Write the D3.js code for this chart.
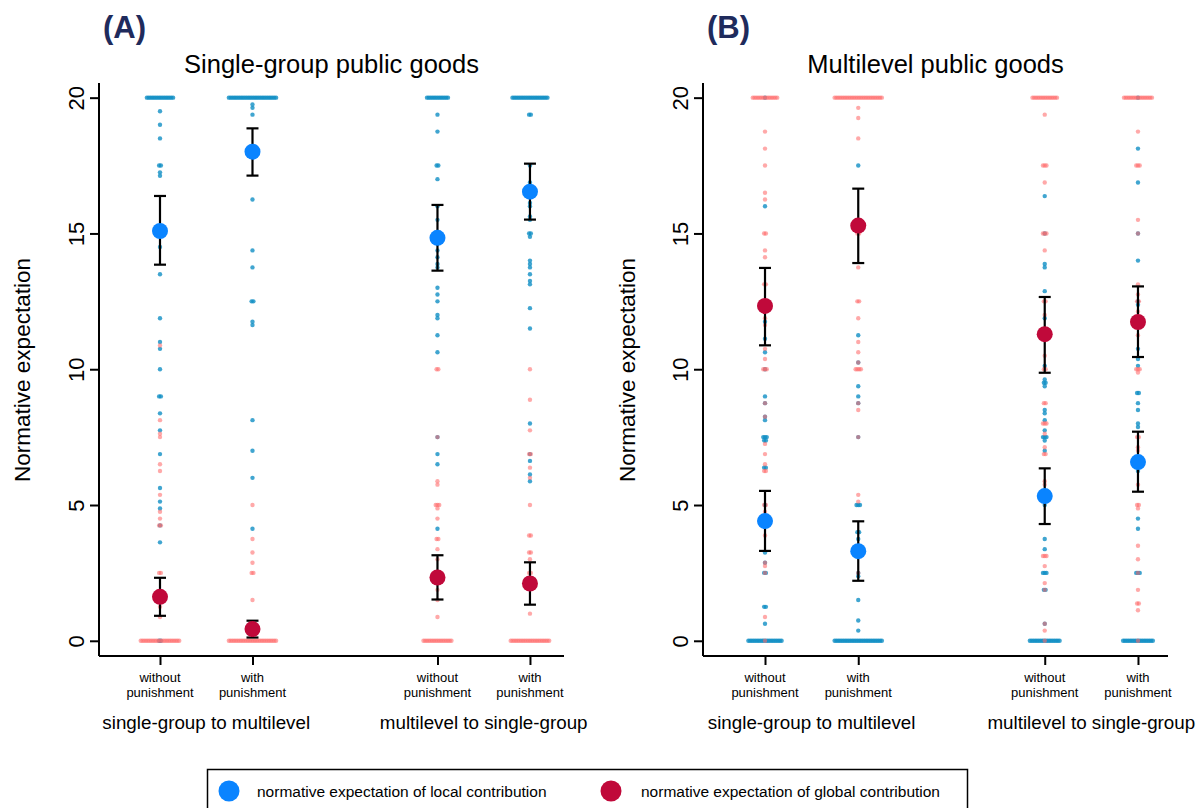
<!DOCTYPE html>
<html>
<head>
<meta charset="utf-8">
<script src="https://cdn.jsdelivr.net/npm/d3@7"></script>
<style>
  html, body { margin: 0; padding: 0; background: #fff; }
  svg { display: block; }
  text { font-family: "Liberation Sans", Arial, Helvetica, sans-serif; fill: #000; }
</style>
</head>
<body>
<svg id="chart" width="1204" height="808"></svg>
<script>
// ---- categories and labels ----
const categoryLabels = [["without", "punishment"], ["with", "punishment"], ["without", "punishment"], ["with", "punishment"]];
const categoryPos = [1, 2, 4, 5];
const groupLabels = ["single-group to multilevel", "multilevel to single-group"];
const yTickValues = [0, 5, 10, 15, 20];
const panelTitles = ["Single-group public goods", "Multilevel public goods"];
const panelTags = ["(A)", "(B)"];
const legendLabels = ["normative expectation of local contribution", "normative expectation of global contribution"];

// ---- individual responses: [value, number of respondents] ----
// Panel A: single-group public goods
const localA = [
  [[20,16],[19.5,1],[19,1],[18.5,1],[17.5,2],[17.25,1],[17.125,1],[14.5,1],[13.5,1],[11.875,1],[11,1],[10.75,1],[10,1],[9,2],[8.375,1],[7.75,1],[6.875,1],[5.625,1],[5.125,1],[4.875,1],[4.25,1],[3.625,1],[0,2]],
  [[20,28],[19.75,1],[19.625,1],[19.375,1],[16.25,1],[14.375,1],[13.75,1],[12.5,2],[11.75,1],[11.625,1],[8.125,1],[7,1],[6,1],[4.125,1]],
  [[20,13],[19.375,1],[18.75,1],[17.5,2],[17,1],[16,1],[15.5,1],[14.625,1],[14.375,1],[14.125,1],[13.875,1],[13.75,1],[13,1],[12.75,1],[12.5,1],[12,1],[11.875,1],[11.25,1],[10.625,1],[7.5,1],[6.875,1],[6.5,1],[4.125,1]],
  [[20,21],[19.375,2],[17.5,1],[16.875,1],[16.75,1],[16.125,1],[16,1],[15.625,1],[15.5,1],[15,2],[14.875,1],[14,1],[13.875,1],[13.75,1],[13.5,1],[13.25,1],[13.125,1],[12.25,1],[11.5,1],[8,1],[6.875,1],[6.625,1],[6.125,1],[5.875,1]]
];
const globalA = [
  [[10.875,1],[8.125,1],[7.625,1],[7.5,1],[6.5,1],[6.25,1],[5.375,1],[4.75,1],[4.5,1],[4.25,2],[2.5,2],[1.25,1],[0.875,1],[0,23]],
  [[5,1],[3.75,1],[3.25,1],[2.875,1],[2.5,2],[1.5,1],[0,28]],
  [[10,2],[7.5,1],[5.875,1],[5.75,1],[5,3],[4.875,1],[4.5,1],[3.75,2],[3.375,1],[3,1],[2.5,1],[1.875,1],[1.5,1],[0.875,1],[0,17]],
  [[10,1],[8.875,1],[7.75,1],[6.875,2],[6.375,1],[6,1],[5,1],[3.875,2],[3.25,2],[3,1],[2.5,2],[1,1],[0,23]]
];
// Panel B: multilevel public goods
const localB = [
  [[20,1],[16,1],[11.75,1],[11.125,1],[10.625,1],[10,1],[9,1],[8.75,1],[8.25,1],[8.125,1],[7.5,3],[7.375,2],[6.375,2],[5,1],[3.25,1],[2.875,1],[2.5,2],[1.25,2],[0.625,1],[0,20]],
  [[17.5,1],[11.25,1],[10.25,1],[9.375,1],[9,1],[8.75,1],[7.5,1],[5,3],[4,2],[3.75,1],[2.5,1],[2.375,1],[1.5,1],[0.75,1],[0.375,1],[0,28]],
  [[16.375,1],[15,1],[13.875,1],[13.75,1],[12.875,1],[11.875,1],[10.125,1],[9.625,1],[9.5,2],[9.375,1],[8.5,1],[8.375,1],[8.125,1],[7.75,1],[7.5,3],[7.375,1],[7,1],[5,1],[3.75,1],[3.375,1],[2.5,3],[1.875,2],[0.625,1],[0,18]],
  [[20,1],[18.125,1],[16.875,1],[15,1],[14,1],[12.5,1],[12.375,1],[10.75,1],[10.375,1],[10.125,1],[9.125,2],[8.75,1],[8.5,1],[8,1],[7.875,1],[6.25,1],[4.5,1],[4.125,1],[2.5,3],[0,18]]
];
const globalB = [
  [[20,15],[18.75,1],[18.125,1],[17.5,1],[16.5,1],[16.25,1],[15,2],[14.375,1],[14.125,1],[13.125,2],[11.875,1],[11.625,1],[10.75,1],[10.375,1],[10,3],[8.75,1],[8.25,1],[7.25,1],[6.875,1],[6.5,1],[6.25,2],[5,2],[4.75,1],[3.875,1],[2.875,1],[2.75,1],[2.5,1],[0.875,1],[0,1]],
  [[20,28],[19.625,1],[19.25,1],[18.5,1],[15,2],[13.75,1],[12.5,2],[11.875,1],[11,1],[10.625,1],[10.25,1],[10,4],[8.75,1],[8.5,1],[7.5,1],[5.375,1],[5.125,1],[2.5,1]],
  [[20,15],[19.375,1],[17.5,3],[16.875,1],[15,3],[14.375,1],[12.5,2],[12,1],[10.5,1],[10,2],[8.75,2],[8,3],[7.625,1],[7.125,1],[6.875,2],[5.875,1],[5.75,1],[3.125,3],[2.75,1],[2.125,1],[1.875,1],[0.625,1],[0.375,1],[0,1]],
  [[20,17],[18.75,1],[17.5,3],[15.5,1],[15,1],[13.125,1],[12.75,1],[12.5,2],[12.125,1],[11.25,1],[10,3],[9.875,1],[7.5,2],[7.125,1],[7,1],[5.75,1],[5,2],[4.875,1],[3.5,1],[3,1],[2.5,1],[1.875,1],[1.375,2],[1.125,1],[0,1]]
];

// ---- means with 95% confidence intervals ----
const meanLocalA = [15.09, 18.01, 14.84, 16.54];
const lowLocalA = [13.85, 17.13, 13.63, 15.51];
const highLocalA = [16.38, 18.87, 16.05, 17.57];
const meanGlobalA = [1.62, 0.43, 2.33, 2.11];
const lowGlobalA = [0.92, 0.12, 1.52, 1.33];
const highGlobalA = [2.32, 0.74, 3.15, 2.89];

const meanLocalB = [4.41, 3.30, 5.33, 6.58];
const lowLocalB = [3.31, 2.21, 4.30, 5.49];
const highLocalB = [5.52, 4.40, 6.35, 7.70];
const meanGlobalB = [12.33, 15.29, 11.29, 11.74];
const lowGlobalB = [10.88, 13.91, 9.87, 10.45];
const highGlobalB = [13.73, 16.65, 12.66, 13.05];

// ---- styling ----
const colLocalDot = "#108fc4";
const colGlobalDot = "#ff6a6a";
const colLocalMean = "#0a84ff";
const colGlobalMean = "#c0093a";
const tagColor = "#1f2b5c";
const dotR = 2.2, dotStep = 1.75, meanR = 8, capHalf = 6;

const svg = d3.select("#chart");

const y = d3.scaleLinear().domain([-0.56, 20.54]).range([656, 83]);

const panels = [
  { tag: panelTags[0], title: panelTitles[0], left: 99, right: 564, dom: [0.3405, 5.368], tagX: 103, yTitleX: 30,
    local: localA, global: globalA,
    mL: meanLocalA, lL: lowLocalA, hL: highLocalA, mG: meanGlobalA, lG: lowGlobalA, hG: highGlobalA },
  { tag: panelTags[1], title: panelTitles[1], left: 703, right: 1168, dom: [0.335, 5.322], tagX: 707, yTitleX: 635,
    local: localB, global: globalB,
    mL: meanLocalB, lL: lowLocalB, hL: highLocalB, mG: meanGlobalB, lG: lowGlobalB, hG: highGlobalB }
];

// spread tied responses horizontally, centred on the category
function stack(pairs, cx) {
  const pts = [];
  pairs.forEach(([v, n]) => {
    for (let i = 0; i < n; i++) pts.push({ v, x: cx + (i - (n - 1) / 2) * dotStep });
  });
  return pts;
}

panels.forEach(p => {
  const x = d3.scaleLinear().domain(p.dom).range([p.left, p.right]);
  const g = svg.append("g");

  // panel tag and title
  g.append("text").attr("x", p.tagX).attr("y", 38)
    .style("font-size", "31px").style("font-weight", "bold").style("fill", tagColor)
    .text(p.tag);
  g.append("text").attr("x", (p.left + p.right) / 2).attr("y", 73)
    .attr("text-anchor", "middle").style("font-size", "25.5px").text(p.title);

  // y axis
  const yAxis = d3.axisLeft(y).tickValues(yTickValues).tickSize(9).tickFormat(d3.format("d"));
  const ya = g.append("g").attr("transform", `translate(${p.left},0)`).call(yAxis);
  ya.select(".domain").attr("d", `M0,83V656`).attr("stroke-width", 2);
  ya.selectAll(".tick line").attr("stroke-width", 2);
  ya.selectAll(".tick text")
    .attr("x", null).attr("dy", null)
    .attr("transform", "translate(-15.5,0) rotate(-90)")
    .attr("text-anchor", "middle")
    .style("font-size", "22px").style("font-family", "'Liberation Sans', Arial, sans-serif");

  g.append("text")
    .attr("transform", `translate(${p.yTitleX},370) rotate(-90)`)
    .attr("text-anchor", "middle").style("font-size", "22.5px")
    .text("Normative expectation");

  // x axis
  const xAxis = d3.axisBottom(x).tickValues(categoryPos).tickSize(9).tickFormat("");
  const xa = g.append("g").attr("transform", "translate(0,656)").call(xAxis);
  xa.select(".domain").attr("d", `M${p.left},0H${p.right}`).attr("stroke-width", 2);
  xa.selectAll(".tick line").attr("stroke-width", 2);

  categoryPos.forEach((c, i) => {
    g.append("text").attr("x", x(c)).attr("y", 682).attr("text-anchor", "middle")
      .style("font-size", "13px").text(categoryLabels[i][0]);
    g.append("text").attr("x", x(c)).attr("y", 697).attr("text-anchor", "middle")
      .style("font-size", "13px").text(categoryLabels[i][1]);
  });
  groupLabels.forEach((lab, k) => {
    const cx = (x(categoryPos[2 * k]) + x(categoryPos[2 * k + 1])) / 2;
    g.append("text").attr("x", cx).attr("y", 728.5).attr("text-anchor", "middle")
      .style("font-size", "18.8px").text(lab);
  });

  // individual responses: local first, global on top
  const localPts = [], globalPts = [];
  categoryPos.forEach((c, i) => {
    localPts.push(...stack(p.local[i], x(c)));
    globalPts.push(...stack(p.global[i], x(c)));
  });
  g.append("g").selectAll("circle").data(localPts).join("circle")
    .attr("cx", d => d.x).attr("cy", d => y(d.v)).attr("r", dotR)
    .attr("fill", colLocalDot).attr("fill-opacity", 0.8);
  g.append("g").selectAll("circle").data(globalPts).join("circle")
    .attr("cx", d => d.x).attr("cy", d => y(d.v)).attr("r", dotR)
    .attr("fill", colGlobalDot).attr("fill-opacity", 0.58);

  // means with confidence intervals
  const summary = [];
  categoryPos.forEach((c, i) => {
    summary.push({ c, m: p.mL[i], lo: p.lL[i], hi: p.hL[i], col: colLocalMean });
    summary.push({ c, m: p.mG[i], lo: p.lG[i], hi: p.hG[i], col: colGlobalMean });
  });
  const eb = g.append("g").attr("stroke", "#000").attr("stroke-width", 2.2).attr("fill", "none");
  summary.forEach(s => {
    const cx = x(s.c);
    eb.append("line").attr("x1", cx).attr("x2", cx).attr("y1", y(s.lo)).attr("y2", y(s.hi));
    eb.append("line").attr("x1", cx - capHalf).attr("x2", cx + capHalf).attr("y1", y(s.lo)).attr("y2", y(s.lo));
    eb.append("line").attr("x1", cx - capHalf).attr("x2", cx + capHalf).attr("y1", y(s.hi)).attr("y2", y(s.hi));
  });
  g.append("g").selectAll("circle").data(summary).join("circle")
    .attr("cx", d => x(d.c)).attr("cy", d => y(d.m)).attr("r", meanR)
    .attr("fill", d => d.col);
});

// legend
const lg = svg.append("g");
lg.append("rect").attr("x", 207.5).attr("y", 769.5).attr("width", 760).attr("height", 50)
  .attr("fill", "none").attr("stroke", "#000").attr("stroke-width", 1.5);
const legendItems = [
  { cx: 229, tx: 257, col: colLocalMean, label: legendLabels[0] },
  { cx: 611, tx: 641, col: colGlobalMean, label: legendLabels[1] }
];
legendItems.forEach(it => {
  lg.append("circle").attr("cx", it.cx).attr("cy", 791).attr("r", 10.5).attr("fill", it.col);
  lg.append("text").attr("x", it.tx).attr("y", 796.5).style("font-size", "15.5px").text(it.label);
});
</script>
</body>
</html>
